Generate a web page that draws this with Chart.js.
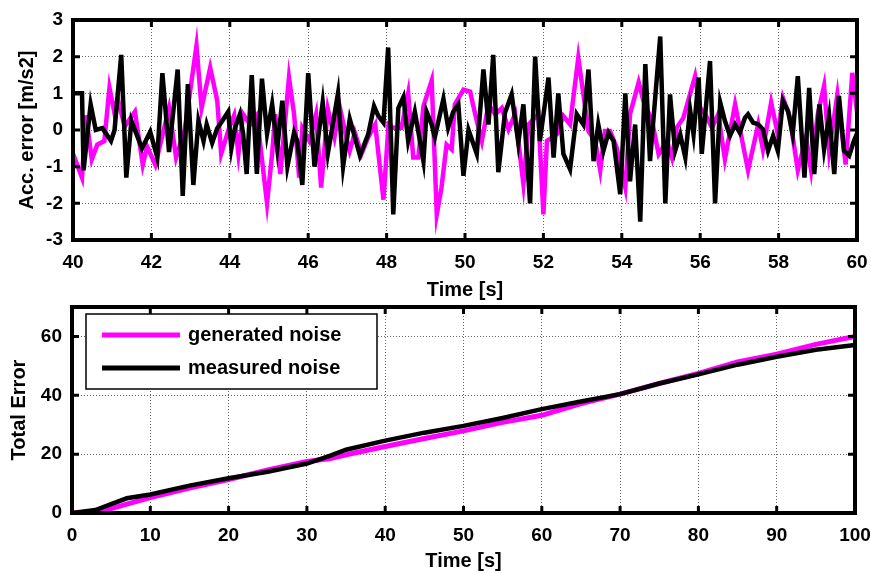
<!DOCTYPE html>
<html>
<head>
<meta charset="utf-8">
<script src="https://cdn.jsdelivr.net/npm/chart.js@4/dist/chart.umd.min.js"></script>
<style>
  body { margin: 0; background: #fff; }
  #wrap { position: relative; width: 871px; height: 573px; background: #fff; }
  canvas { position: absolute; left: 0; }
  #c1 { top: 0; }
  #c2 { top: 290px; }
</style>
</head>
<body>
<div id="wrap">
  <canvas id="c1" width="871" height="302"></canvas>
  <canvas id="c2" width="871" height="283"></canvas>
</div>
<script>
// ---- top plot: acceleration error, 40..60 s ----
const accTicksX = [40, 42, 44, 46, 48, 50, 52, 54, 56, 58, 60];
const accTicksY = [-3, -2, -1, 0, 1, 2, 3];

// generated noise (magenta)
const genTime = [40.0, 40.23, 40.33, 40.48, 40.62, 40.8, 40.93, 41.05, 41.14, 41.32, 41.58, 41.78, 41.89, 42.1, 42.45, 42.63, 42.85, 43.15, 43.28, 43.5, 43.68, 43.78, 43.98, 44.11,
  44.22, 44.34, 44.52, 44.69, 44.95, 45.08, 45.16, 45.29, 45.51, 45.64, 45.77, 45.85, 46.03, 46.2, 46.33, 46.5, 46.67, 46.8, 46.97, 47.06, 47.19, 47.36, 47.53, 47.71, 47.92,
  48.05, 48.17, 48.38, 48.55, 48.68, 48.81, 48.94, 49.15, 49.28, 49.4, 49.53, 49.66, 49.74, 49.96, 50.13, 50.26, 50.43, 50.6, 50.77, 50.94, 51.11, 51.28, 51.49, 51.62, 51.87,
  52.0, 52.09, 52.34, 52.51, 52.68, 52.89, 53.02, 53.15, 53.32, 53.45, 53.57, 53.7, 53.87, 54.09, 54.21, 54.43, 54.55, 54.77, 54.94, 55.15, 55.28, 55.4, 55.57, 55.87,
  56.0, 56.13, 56.3, 56.46, 56.63, 56.89, 57.22, 57.48, 57.6, 57.81, 57.98, 58.11, 58.28, 58.49, 58.7, 58.83, 59.0, 59.16, 59.29, 59.5, 59.71, 59.88, 60.0];
const genAcc = [-0.65, -1.3, 0.4, -0.8, -0.4, -0.3, 1.15, 0.5, 0.85, 0.1, 0.5, -0.95, -0.45, -0.95, 0.6, -0.75, 0.0, 2.3, 0.6, 1.7, 0.8, -0.65, 0.05, 0.4,
  -0.65, 0.43, 0.15, 0.4, -2.0, -0.65, 0.43, -1.2, 1.43, 0.43, -1.3, 0.05, -0.3, 0.43, -1.57, 0.57, -0.2, 0.65, -0.2, -0.57, -0.07, -0.65, -0.2, 0.15, -1.9,
  0.15, 0.06, 0.06, 1.0, -0.75, -0.75, 0.65, 1.35, -2.3, -1.57, -0.4, -0.53, 0.7, 1.1, 1.05, 0.43, -0.3, 0.7, 0.43, 0.6, 0.02, 0.43, -1.48, 0.15, 0.43,
  -2.3, -0.3, -0.12, 0.38, 0.15, 1.97, 0.97, -0.03, -0.3, -1.1, -0.03, -0.03, -0.48, -1.57, 0.43, 1.3, 0.8, 0.25, -0.66, -0.3, -0.75, 0.06, 0.33, 1.47,
  0.6, 0.43, 0.06, 0.43, -0.8, 0.7, -1.1, 0.15, -0.53, 0.75, -0.12, 0.88, 0.38, -1.1, -0.2, -1.1, 0.43, 1.2, -0.57, 0.97, -0.94, 1.56, 0.5];

// measured noise (black)
const measTime = [40.0, 40.23, 40.27, 40.45, 40.58, 40.75, 40.97, 41.06, 41.23, 41.36, 41.49, 41.76, 41.97, 42.15, 42.28, 42.45, 42.67, 42.8, 42.93, 43.07, 43.2, 43.33, 43.41, 43.55, 43.68, 43.81,
  43.96, 44.04, 44.13, 44.26, 44.34, 44.43, 44.56, 44.69, 44.82, 44.95, 45.08, 45.21, 45.34, 45.47, 45.64, 45.72, 45.85, 46.0, 46.16, 46.37, 46.5, 46.76, 46.89, 47.06, 47.32, 47.53, 47.68, 47.79, 47.92,
  48.04, 48.17, 48.3, 48.43, 48.55, 48.72, 48.94, 49.02, 49.15, 49.23, 49.45, 49.57, 49.7, 49.83, 49.96, 50.09, 50.3, 50.47, 50.6, 50.72, 50.85, 51.02, 51.19, 51.36, 51.49, 51.66, 51.79, 51.91,
  52.13, 52.26, 52.38, 52.51, 52.68, 52.85, 53.02, 53.15, 53.28, 53.4, 53.53, 53.66, 53.79, 53.96, 54.09, 54.21, 54.34, 54.47, 54.6, 54.72, 54.98, 55.11, 55.23, 55.36, 55.49, 55.62, 55.74, 55.83, 55.96,
  56.04, 56.25, 56.38, 56.51, 56.63, 56.76, 56.89, 57.01, 57.14, 57.22, 57.35, 57.48, 57.6, 57.73, 57.86, 57.98, 58.11, 58.24, 58.36, 58.49, 58.66, 58.78, 58.91, 59.04, 59.16, 59.29, 59.42, 59.54, 59.67, 59.8, 59.92, 60.0];
const measAcc = [1.0, 1.0, -1.1, 0.7, 0.0, 0.05, -0.3, 0.0, 2.05, -1.3, 0.25, -0.5, -0.05, -0.75, 1.55, -0.6, 1.65, -1.8, 1.25, -1.5, 0.25, -0.3, 0.15, -0.35, 0.05, 0.25,
  0.5, -0.5, 0.05, 0.43, -0.1, -1.2, 1.5, -1.2, 1.4, -0.1, 0.7, -0.5, 0.8, -1.0, -0.07, -0.3, -1.5, 1.55, -1.0, 0.75, -0.65, 1.0, -1.0, 0.3, -0.7, -0.12, 0.65, 0.38, 0.2,
  2.25, -2.3, 0.6, 0.9, -0.3, 0.5, -0.85, 0.5, 0.15, -0.2, 0.85, 0.06, 0.5, 0.7, -1.25, 0.0, -0.65, 1.65, 0.15, 2.05, -1.15, 0.47, 0.97, -0.35, 0.7, -2.0, 2.0, -0.3,
  1.43, -0.75, 1.0, -0.65, -1.07, 0.43, 0.15, 1.65, -0.85, 0.15, -0.57, -0.07, -0.3, -1.75, 1.0, -1.4, 0.15, -2.5, 1.8, -0.85, 2.55, -2.0, 0.97, -0.57, -0.12, -0.75, 0.56, -0.12, 1.43,
  -0.65, 1.88, -2.0, 0.75, 0.25, -0.16, 0.15, -0.07, 0.33, 0.43, 0.2, 0.15, 0.02, -0.57, -0.16, -0.57, 0.8, 0.52, -0.12, 1.47, -1.3, 1.15, -1.2, 0.7, -0.53, 0.38, -1.2, 0.93, -0.57, -0.7, -0.3, -0.1];

// ---- bottom plot: total error, 0..100 s ----
const totTicksX = [0, 10, 20, 30, 40, 50, 60, 70, 80, 90, 100];
const totTicksY = [0, 20, 40, 60];
const totTime = [0, 3, 5, 7, 10, 15, 20, 25, 30, 33, 35, 40, 45, 50, 55, 60, 65, 70, 75, 80, 85, 90, 95, 100];
const totGen  = [0, 0, 1.5, 3.0, 5.2, 8.5, 11.4, 14.6, 17.5, 18.5, 19.8, 22.6, 25.3, 27.9, 30.8, 33.2, 37.2, 40.4, 44.0, 47.4, 51.3, 54.0, 57.3, 60.0];
const totMeas = [0, 1.0, 3.0, 5.0, 6.3, 9.3, 11.8, 14.0, 16.8, 19.5, 21.5, 24.6, 27.3, 29.6, 32.3, 35.3, 37.9, 40.4, 44.0, 47.1, 50.4, 53.1, 55.5, 57.1];

const seriesNames = ['generated noise', 'measured noise'];

const pts = (xs, ys) => xs.map((x, i) => ({ x: x, y: ys[i] }));

// matlab style box + inward tick marks
const matlabAxes = {
  id: 'matlabAxes',
  afterDatasetsDraw(chart) {
    const { ctx, chartArea: a, scales } = chart;
    ctx.save();
    ctx.strokeStyle = '#000';
    ctx.lineWidth = 3;
    scales.x.ticks.forEach(t => {
      const px = scales.x.getPixelForValue(t.value);
      ctx.beginPath();
      ctx.moveTo(px, a.bottom); ctx.lineTo(px, a.bottom - 7);
      ctx.moveTo(px, a.top); ctx.lineTo(px, a.top + 7);
      ctx.stroke();
    });
    scales.y.ticks.forEach(t => {
      const py = scales.y.getPixelForValue(t.value);
      ctx.beginPath();
      ctx.moveTo(a.left, py); ctx.lineTo(a.left + 7, py);
      ctx.moveTo(a.right, py); ctx.lineTo(a.right - 7, py);
      ctx.stroke();
    });
    ctx.lineWidth = 4;
    ctx.strokeRect(a.left, a.top, a.right - a.left, a.bottom - a.top);
    ctx.restore();
  }
};

// legend box in the upper left corner of the axes
const boxLegend = {
  id: 'boxLegend',
  afterDraw(chart, args, opts) {
    if (!opts.display) return;
    const { ctx, chartArea: a } = chart;
    const x = a.left + opts.dx, y = a.top + opts.dy;
    ctx.save();
    ctx.fillStyle = '#fff';
    ctx.fillRect(x, y, opts.w, opts.h);
    ctx.strokeStyle = '#000';
    ctx.lineWidth = 1.5;
    ctx.strokeRect(x, y, opts.w, opts.h);
    ctx.font = 'bold 20px "Liberation Sans", Arial, sans-serif';
    ctx.textBaseline = 'middle';
    chart.data.datasets.forEach((ds, i) => {
      const ly = y + 21 + i * 33;
      ctx.strokeStyle = ds.borderColor;
      ctx.lineWidth = 5;
      ctx.beginPath();
      ctx.moveTo(x + 16, ly); ctx.lineTo(x + 94, ly);
      ctx.stroke();
      ctx.fillStyle = '#000';
      ctx.fillText(ds.label, x + 102, ly);
    });
    ctx.restore();
  }
};

const tickFont = { family: '"Liberation Sans", Arial, sans-serif', size: 19, weight: 'bold' };
const titleFont = { family: '"Liberation Sans", Arial, sans-serif', size: 20, weight: 'bold' };

function makeChart(canvas, cfg) {
  return new Chart(canvas, {
    type: 'line',
    data: {
      datasets: [{
        label: seriesNames[0],
        data: cfg.gen,
        borderColor: '#ff00ff',
        borderWidth: cfg.genWidth,
        pointRadius: 0,
        borderJoinStyle: 'miter',
        tension: 0,
        order: 1
      }, {
        label: seriesNames[1],
        data: cfg.meas,
        borderColor: '#000000',
        borderWidth: cfg.measWidth,
        pointRadius: 0,
        borderJoinStyle: 'miter',
        tension: 0,
        order: 0
      }]
    },
    options: {
      responsive: false,
      animation: false,
      devicePixelRatio: 1,
      layout: { padding: { top: cfg.padTop, right: cfg.padRight, left: 0, bottom: 0 } },
      plugins: {
        legend: { display: false },
        tooltip: { enabled: false },
        boxLegend: cfg.legend
      },
      scales: {
        x: {
          type: 'linear',
          min: cfg.xTicks[0],
          max: cfg.xTicks[cfg.xTicks.length - 1],
          afterBuildTicks: s => { s.ticks = cfg.xTicks.map(v => ({ value: v })); },
          afterFit: s => { s.height = cfg.xHeight; s.paddingLeft = 0; s.paddingRight = 0; },
          grid: { color: 'rgba(0,0,0,0.6)', lineWidth: 1, drawTicks: false },
          border: { display: false, dash: [1, 2] },
          ticks: { font: tickFont, color: '#000', padding: 11, maxRotation: 0 },
          title: { display: true, text: 'Time [s]', font: titleFont, color: '#000', padding: 0 }
        },
        y: {
          type: 'linear',
          min: cfg.yMin,
          max: cfg.yMax,
          afterBuildTicks: s => { s.ticks = cfg.yTicks.map(v => ({ value: v })); },
          afterFit: s => { s.width = cfg.yWidth; s.paddingTop = 0; s.paddingBottom = 0; },
          grid: { color: 'rgba(0,0,0,0.6)', lineWidth: 1, drawTicks: false },
          border: { display: false, dash: [1, 2] },
          ticks: { font: tickFont, color: '#000', padding: 10 },
          title: { display: true, text: cfg.yTitle, font: titleFont, color: '#000', padding: { top: cfg.yTitlePad, bottom: 0 } }
        }
      }
    },
    plugins: [matlabAxes, boxLegend]
  });
}

makeChart(document.getElementById('c1'), {
  gen: pts(genTime, genAcc),
  meas: pts(measTime, measAcc),
  genWidth: 4.5, measWidth: 4.5,
  xTicks: accTicksX, yTicks: accTicksY,
  yMin: -3, yMax: 3,
  yTitle: 'Acc. error [m/s2]', yTitlePad: 15,
  yWidth: 73, xHeight: 62, padTop: 20, padRight: 14,
  legend: { display: false }
});

makeChart(document.getElementById('c2'), {
  gen: pts(totTime, totGen),
  meas: pts(totTime, totMeas),
  genWidth: 5, measWidth: 4.5,
  xTicks: totTicksX, yTicks: totTicksY,
  yMin: 0, yMax: 70,
  yTitle: 'Total Error', yTitlePad: 7,
  yWidth: 72, xHeight: 60, padTop: 17, padRight: 16,
  legend: { display: true, dx: 14, dy: 7, w: 291, h: 75 }
});
</script>
</body>
</html>
